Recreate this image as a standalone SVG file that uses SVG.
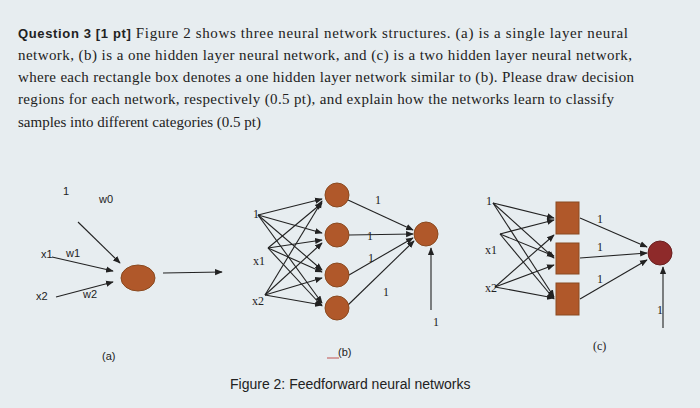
<svg xmlns="http://www.w3.org/2000/svg" width="700" height="408" viewBox="0 0 700 408">
<defs>
<marker id="ar" viewBox="0 0 10 10" refX="9" refY="5" markerWidth="7" markerHeight="7" orient="auto"><path d="M0,1 L10,5 L0,9 z" fill="#222"/></marker>
<style>
.t{font-family:"Liberation Serif",serif;font-size:15px;fill:#222}
.s{font-family:"Liberation Sans",sans-serif;font-size:11px;fill:#222}
.r{font-family:"Liberation Serif",serif;font-size:12px;fill:#222}
.c{stroke:#222;stroke-width:1.1;fill:none;marker-end:url(#ar)}
.n{fill:#b0582a;stroke:#8a4a20;stroke-width:1}
.o{fill:#8e2a2a;stroke:#6a2020;stroke-width:1}
</style>
</defs>
<rect width="700" height="408" fill="#e7edf0"/>
<g id="text">
<text x="18" y="38" class="t" textLength="610"><tspan font-family="Liberation Sans" font-weight="bold" font-size="13">Question 3 [1 pt]</tspan> Figure 2 shows three neural network structures. (a) is a single layer neural</text>
<text x="18" y="60" class="t" textLength="614">network, (b) is a one hidden layer neural network, and (c) is a two hidden layer neural network,</text>
<text x="18" y="82" class="t" textLength="616">where each rectangle box denotes a one hidden layer network similar to (b). Please draw decision</text>
<text x="18" y="104" class="t" textLength="596">regions for each network, respectively (0.5 pt), and explain how the networks learn to classify</text>
<text x="18" y="127" class="t">samples into different categories (0.5 pt)</text>
</g>
<g id="connectors">
<line x1="78" y1="222" x2="120" y2="263" class="c"/>
<line x1="52" y1="257" x2="113" y2="271" class="c"/>
<line x1="56" y1="297" x2="113" y2="282" class="c"/>
<line x1="163" y1="273" x2="222" y2="272" class="c"/>
<g id="b-in">
<line x1="258" y1="215" x2="322" y2="199" class="c"/><line x1="258" y1="215" x2="322" y2="233" class="c"/><line x1="258" y1="215" x2="322" y2="270" class="c"/><line x1="258" y1="215" x2="322" y2="303" class="c"/>
<line x1="268" y1="248" x2="322" y2="203" class="c"/><line x1="268" y1="248" x2="322" y2="240" class="c"/><line x1="268" y1="248" x2="322" y2="272" class="c"/><line x1="268" y1="248" x2="322" y2="306" class="c"/>
<line x1="265" y1="295" x2="322" y2="201" class="c"/><line x1="265" y1="295" x2="322" y2="243" class="c"/><line x1="265" y1="295" x2="322" y2="278" class="c"/><line x1="265" y1="295" x2="322" y2="305" class="c"/>
<line x1="348" y1="200" x2="413" y2="230" class="c"/><line x1="349" y1="235" x2="413" y2="234" class="c"/><line x1="349" y1="275" x2="413" y2="238" class="c"/><line x1="348" y1="305" x2="414" y2="241" class="c"/>
<line x1="431" y1="310" x2="431" y2="248" class="c"/>
</g>
<g id="c-in">
<line x1="493" y1="203" x2="554" y2="218" class="c"/><line x1="493" y1="203" x2="554" y2="258" class="c"/><line x1="493" y1="203" x2="554" y2="297" class="c"/>
<line x1="500" y1="234" x2="554" y2="220" class="c"/><line x1="500" y1="234" x2="554" y2="256" class="c"/><line x1="500" y1="234" x2="554" y2="299" class="c"/>
<line x1="495" y1="287" x2="554" y2="235" class="c"/><line x1="495" y1="287" x2="554" y2="265" class="c"/><line x1="495" y1="287" x2="554" y2="298" class="c"/>
<line x1="580" y1="218" x2="647" y2="247" class="c"/><line x1="580" y1="258" x2="647" y2="253" class="c"/><line x1="580" y1="299" x2="647" y2="260" class="c"/>
<line x1="663" y1="328" x2="663" y2="267" class="c"/>
</g>
</g>
<g id="a-node"><ellipse cx="138" cy="278" rx="17" ry="13" class="n"/></g>
<g id="b-nodes">
<circle cx="337" cy="195" r="12" class="n"/><circle cx="337" cy="235" r="12" class="n"/><circle cx="337" cy="275" r="12" class="n"/><circle cx="337" cy="308" r="12" class="n"/>
<circle cx="426" cy="234" r="12" class="n"/>
</g>
<g id="c-nodes">
<rect x="556" y="202" width="23" height="32" class="n"/><rect x="556" y="243" width="23" height="31" class="n"/><rect x="556" y="283" width="23" height="32" class="n"/>
<circle cx="660" cy="253" r="12" class="o"/>
</g>
<g id="labels">
<text x="63" y="195" class="s">1</text><text x="99" y="203" class="s">w0</text>
<text x="41" y="258" class="s">x1</text><text x="66" y="257" class="s">w1</text>
<text x="36" y="300" class="s">x2</text><text x="83" y="298" class="s">w2</text>
<text x="102" y="360" class="s" font-size="13">(a)</text>
<text x="253" y="218" class="r">1</text><text x="253" y="265" class="r">x1</text><text x="252" y="305" class="r">x2</text>
<text x="375" y="204" class="r">1</text><text x="367" y="240" class="r">1</text><text x="368" y="262" class="r">1</text><text x="383" y="296" class="r">1</text>
<text x="433" y="326" class="r">1</text>
<line x1="327" y1="358" x2="339" y2="358" stroke="#c05050" stroke-width="1"/>
<text x="338" y="356" class="s" font-size="13">(b)</text>
<text x="486" y="205" class="r">1</text><text x="485" y="254" class="r">x1</text><text x="485" y="292" class="r">x2</text>
<text x="597" y="223" class="r">1</text><text x="597" y="251" class="r">1</text><text x="597" y="283" class="r">1</text>
<text x="657" y="314" class="r">1</text>
<text x="593" y="350" class="r" font-size="13">(c)</text>
<text x="230" y="389" font-family="Liberation Sans,sans-serif" font-size="14" fill="#222">Figure 2: Feedforward neural networks</text>
</g>
</svg>
